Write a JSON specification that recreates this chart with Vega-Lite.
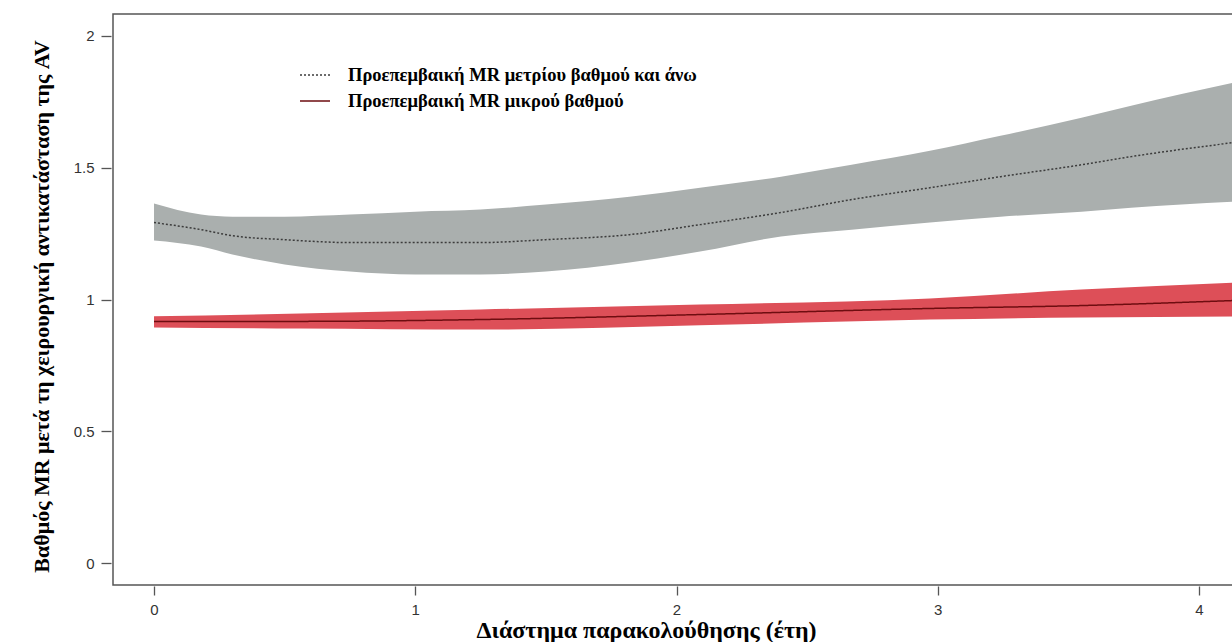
{
  "$schema": "https://vega.github.io/schema/vega-lite/v6.json",
  "width": 1120,
  "height": 571,
  "autosize": {"type": "pad"},
  "padding": {"left": 30, "top": 14, "right": 0, "bottom": 0},
  "background": "white",
  "config": {
    "view": {"stroke": "#555555", "strokeWidth": 1.5},
    "axis": {
      "grid": false,
      "domain": false,
      "tickColor": "#555555",
      "tickWidth": 1.3,
      "labelFont": "Liberation Sans",
      "labelFontSize": 15,
      "labelColor": "#333333",
      "titleFont": "Liberation Serif",
      "titleFontWeight": "bold",
      "titleFontSize": 22,
      "titleColor": "#000000"
    },
    "legend": {
      "labelFont": "Liberation Serif",
      "labelFontWeight": "bold",
      "labelFontSize": 18.5,
      "labelColor": "#000000",
      "symbolType": "stroke",
      "symbolSize": 900,
      "symbolStrokeWidth": 1.5,
      "labelOffset": 17,
      "rowPadding": -8,
      "labelLimit": 600
    }
  },
  "data": {
    "values": [
      {"t": 0, "g": "Προεπεμβαική MR μετρίου βαθμού και άνω", "est": 1.292, "lo": 1.224, "hi": 1.364},
      {"t": 0.18, "g": "Προεπεμβαική MR μετρίου βαθμού και άνω", "est": 1.265, "lo": 1.201, "hi": 1.322},
      {"t": 0.3, "g": "Προεπεμβαική MR μετρίου βαθμού και άνω", "est": 1.242, "lo": 1.171, "hi": 1.314},
      {"t": 0.5, "g": "Προεπεμβαική MR μετρίου βαθμού και άνω", "est": 1.227, "lo": 1.133, "hi": 1.314},
      {"t": 0.75, "g": "Προεπεμβαική MR μετρίου βαθμού και άνω", "est": 1.216, "lo": 1.106, "hi": 1.322},
      {"t": 1, "g": "Προεπεμβαική MR μετρίου βαθμού και άνω", "est": 1.216, "lo": 1.095, "hi": 1.333},
      {"t": 1.25, "g": "Προεπεμβαική MR μετρίου βαθμού και άνω", "est": 1.216, "lo": 1.095, "hi": 1.341},
      {"t": 1.5, "g": "Προεπεμβαική MR μετρίου βαθμού και άνω", "est": 1.227, "lo": 1.106, "hi": 1.36},
      {"t": 1.82, "g": "Προεπεμβαική MR μετρίου βαθμού και άνω", "est": 1.246, "lo": 1.14, "hi": 1.39},
      {"t": 2.09, "g": "Προεπεμβαική MR μετρίου βαθμού και άνω", "est": 1.284, "lo": 1.182, "hi": 1.424},
      {"t": 2.4, "g": "Προεπεμβαική MR μετρίου βαθμού και άνω", "est": 1.33, "lo": 1.239, "hi": 1.466},
      {"t": 2.67, "g": "Προεπεμβαική MR μετρίου βαθμού και άνω", "est": 1.379, "lo": 1.265, "hi": 1.511},
      {"t": 2.97, "g": "Προεπεμβαική MR μετρίου βαθμού και άνω", "est": 1.424, "lo": 1.292, "hi": 1.564},
      {"t": 3.24, "g": "Προεπεμβαική MR μετρίου βαθμού και άνω", "est": 1.466, "lo": 1.314, "hi": 1.621},
      {"t": 3.55, "g": "Προεπεμβαική MR μετρίου βαθμού και άνω", "est": 1.511, "lo": 1.333, "hi": 1.689},
      {"t": 3.74, "g": "Προεπεμβαική MR μετρίου βαθμού και άνω", "est": 1.542, "lo": 1.348, "hi": 1.735},
      {"t": 4.13, "g": "Προεπεμβαική MR μετρίου βαθμού και άνω", "est": 1.595, "lo": 1.371, "hi": 1.822},
      {"t": 0, "g": "Προεπεμβαική MR μικρού βαθμού", "est": 0.917, "lo": 0.894, "hi": 0.936},
      {"t": 0.56, "g": "Προεπεμβαική MR μικρού βαθμού", "est": 0.917, "lo": 0.89, "hi": 0.947},
      {"t": 1.25, "g": "Προεπεμβαική MR μικρού βαθμού", "est": 0.924, "lo": 0.886, "hi": 0.962},
      {"t": 2.09, "g": "Προεπεμβαική MR μικρού βαθμού", "est": 0.943, "lo": 0.902, "hi": 0.981},
      {"t": 2.97, "g": "Προεπεμβαική MR μικρού βαθμού", "est": 0.966, "lo": 0.924, "hi": 1.004},
      {"t": 3.55, "g": "Προεπεμβαική MR μικρού βαθμού", "est": 0.977, "lo": 0.932, "hi": 1.038},
      {"t": 4.13, "g": "Προεπεμβαική MR μικρού βαθμού", "est": 0.996, "lo": 0.936, "hi": 1.064}
    ]
  },
  "encoding": {
    "x": {
      "field": "t",
      "type": "quantitative",
      "scale": {"domain": [-0.157, 4.13], "nice": false, "zero": false},
      "axis": {
        "values": [0, 1, 2, 3, 4],
        "labelExpr": "datum.value + ''",
        "tickSize": 9,
        "offset": 1,
        "labelPadding": 7,
        "title": "Διάστημα παρακολούθησης (έτη)",
        "titleFontSize": 24,
        "titleX": 533,
        "titleY": 51,
        "titleAlign": "center",
        "titleBaseline": "alphabetic"
      }
    }
  },
  "layer": [
    {
      "mark": {"type": "area", "opacity": 1, "interpolate": "monotone"},
      "encoding": {
        "y": {
          "field": "lo",
          "type": "quantitative",
          "scale": {"domain": [-0.083, 2.083], "nice": false, "zero": false},
          "axis": {
            "values": [0, 0.5, 1, 1.5, 2],
            "labelExpr": "datum.value + ''",
            "tickSize": 10,
            "offset": 2,
            "labelPadding": 7,
            "title": "Βαθμός MR μετά τη χειρουργική αντικατάσταση της AV",
            "titleX": -63,
            "titleY": 292,
            "titleAngle": -90,
            "titleAlign": "center",
            "titleBaseline": "alphabetic"
          }
        },
        "y2": {"field": "hi"},
        "fill": {
          "field": "g",
          "type": "nominal",
          "scale": {
            "domain": ["Προεπεμβαική MR μικρού βαθμού", "Προεπεμβαική MR μετρίου βαθμού και άνω"],
            "range": ["#dd4f58", "#aaafae"]
          },
          "legend": null
        }
      }
    },
    {
      "mark": {"type": "line", "strokeWidth": 1.5, "interpolate": "monotone"},
      "encoding": {
        "y": {"field": "est", "type": "quantitative"},
        "stroke": {
          "field": "g",
          "type": "nominal",
          "scale": {
            "domain": ["Προεπεμβαική MR μετρίου βαθμού και άνω", "Προεπεμβαική MR μικρού βαθμού"],
            "range": ["#3c3c3c", "#6e0d10"]
          },
          "legend": {
            "orient": "none",
            "legendX": 186,
            "legendY": 45,
            "title": null,
            "padding": 0,
            "encode": {
              "symbols": {
                "update": {
                  "stroke": {"signal": "datum.value === 'Προεπεμβαική MR μικρού βαθμού' ? '#e06a6a' : '#333333'"}
                }
              }
            }
          }
        },
        "strokeDash": {
          "field": "g",
          "type": "nominal",
          "scale": {
            "domain": ["Προεπεμβαική MR μετρίου βαθμού και άνω", "Προεπεμβαική MR μικρού βαθμού"],
            "range": [[2, 2], [1, 0]]
          },
          "legend": {
            "orient": "none",
            "legendX": 186,
            "legendY": 45,
            "title": null,
            "padding": 0,
            "encode": {
              "symbols": {
                "update": {
                  "stroke": {"signal": "datum.value === 'Προεπεμβαική MR μικρού βαθμού' ? '#e06a6a' : '#333333'"}
                }
              }
            }
          }
        }
      }
    }
  ]
}
